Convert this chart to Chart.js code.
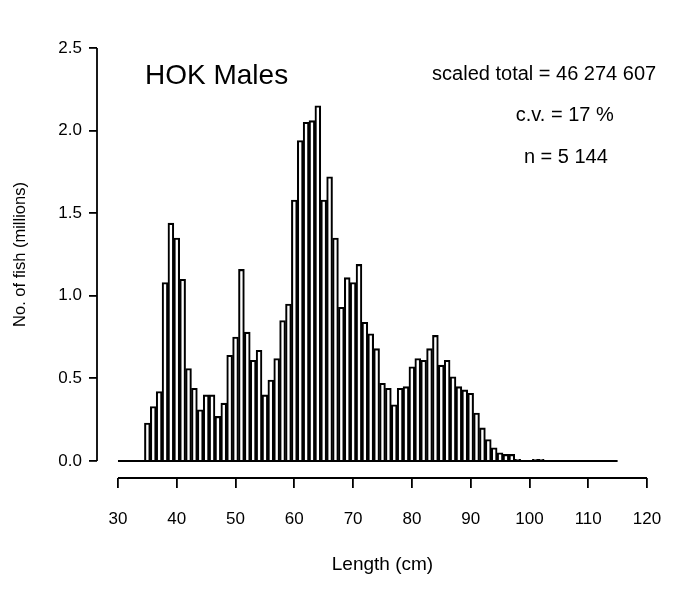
<!DOCTYPE html>
<html><head><meta charset="utf-8">
<script src="https://cdn.jsdelivr.net/npm/chart.js@4.4.0/dist/chart.umd.min.js"></script>
<style>html,body{margin:0;padding:0;background:#fff}#wrap{width:686px;height:602px;position:relative}</style>
</head><body><div id="wrap"><canvas id="c" width="686" height="602"></canvas></div>
<script>
// ---- data ----
const lengths = [35,36,37,38,39,40,41,42,43,44,45,46,47,48,49,50,51,52,53,54,55,56,57,58,59,60,61,62,63,64,65,66,67,68,69,70,71,72,73,74,75,76,77,78,79,80,81,82,83,84,85,86,87,88,89,90,91,92,93,94,95,96,97,98,99,100,101,102];
const counts = [0.23,0.33,0.42,1.08,1.44,1.35,1.10,0.56,0.44,0.31,0.40,0.40,0.27,0.35,0.64,0.75,1.16,0.78,0.61,0.67,0.40,0.49,0.62,0.85,0.95,1.58,1.94,2.05,2.06,2.15,1.58,1.72,1.35,0.93,1.11,1.08,1.19,0.84,0.77,0.68,0.47,0.44,0.34,0.44,0.45,0.57,0.62,0.61,0.68,0.76,0.58,0.61,0.51,0.45,0.43,0.41,0.29,0.20,0.13,0.08,0.05,0.04,0.04,0.01,0.005,0.005,0.01,0.01];
const baselineRange = [30,115];
const xTickValues = [30,40,50,60,70,80,90,100,110,120];
const yTickValues = [0,0.5,1,1.5,2,2.5];
const titleText = "HOK Males";
const statLines = ["scaled total = 46 274 607","c.v. = 17 %","n = 5 144"];
const xTitle = "Length (cm)";
const yTitle = "No. of fish (millions)";

const FONT = "'Liberation Sans', Arial, Helvetica, sans-serif";

const detached = {
  id: 'detached',
  afterDraw(chart) {
    const {ctx, chartArea, scales: {x, y}} = chart;
    const x0 = x.getPixelForValue(xTickValues[0]);
    const x1 = x.getPixelForValue(xTickValues[xTickValues.length-1]);
    const y0 = y.getPixelForValue(yTickValues[0]);
    const y1 = y.getPixelForValue(yTickValues[yTickValues.length-1]);
    ctx.save();
    ctx.strokeStyle = '#000';
    ctx.lineWidth = 1.8;
    ctx.beginPath();
    ctx.moveTo(chartArea.left, y0);
    ctx.lineTo(chartArea.left, y1);
    ctx.stroke();
    ctx.beginPath();
    ctx.moveTo(x0, chartArea.bottom);
    ctx.lineTo(x1, chartArea.bottom);
    ctx.stroke();
    ctx.fillStyle = '#000';
    ctx.textBaseline = 'middle';
    // axis titles
    ctx.font = "19px " + FONT;
    ctx.textAlign = 'center';
    ctx.fillText(xTitle, (x0 + x1) / 2, 565);
    ctx.save();
    ctx.translate(20, (y0 + y1) / 2);
    ctx.rotate(-Math.PI / 2);
    ctx.font = "16.5px " + FONT;
    ctx.fillText(yTitle, 0, 0);
    ctx.restore();
    // annotations
    ctx.font = "28px " + FONT;
    ctx.textAlign = 'left';
    ctx.fillText(titleText, x.getPixelForValue(34.6), y.getPixelForValue(2.33));
    ctx.font = "20px " + FONT;
    ctx.textAlign = 'center';
    const pos = [[102.5,2.34],[106.0,2.09],[106.2,1.84]];
    statLines.forEach((t,i)=>ctx.fillText(t, x.getPixelForValue(pos[i][0]), y.getPixelForValue(pos[i][1])));
    ctx.restore();
  }
};

new Chart(document.getElementById('c'), {
  type: 'bar',
  data: {
    datasets: [
      {
        type: 'line',
        data: baselineRange.map(v => ({x: v, y: 0})),
        borderColor: '#000', borderWidth: 1.8, pointRadius: 0, order: 0
      },
      {
        type: 'bar',
        data: lengths.map((l, i) => ({x: l, y: counts[i]})),
        backgroundColor: '#fff', borderColor: '#000', borderWidth: 2.1,
        borderSkipped: 'start',
        barPercentage: 1.0, categoryPercentage: 1.0, order: 1
      }
    ]
  },
  options: {
    responsive: false,
    animation: false,
    devicePixelRatio: 1,
    layout: {padding: {left: 0, top: 48, right: 39, bottom: 0}},
    plugins: {legend: {display: false}, tooltip: {enabled: false}},
    scales: {
      x: {
        type: 'linear', min: 26.43, max: 120, offset: false,
        afterBuildTicks: s => { s.ticks = xTickValues.map(v => ({value: v})); },
        afterFit: s => { s.height = 124; },
        grid: {offset: false, drawOnChartArea: false, drawTicks: true, tickLength: 10, color: '#000', lineWidth: 1.8},
        border: {display: false},
        ticks: {color: '#000', padding: 21, font: {family: FONT, size: 17}, maxRotation: 0, autoSkip: false},
        title: {display: false}
      },
      y: {
        min: -0.103, max: 2.5,
        afterBuildTicks: s => { s.ticks = yTickValues.map(v => ({value: v})); },
        afterFit: s => { s.width = 97; },
        grid: {drawOnChartArea: false, drawTicks: true, tickLength: 8, color: '#000', lineWidth: 1.8},
        border: {display: false},
        ticks: {color: '#000', padding: 7, font: {family: FONT, size: 17}, callback: v => v.toFixed(1)},
        title: {display: false}
      }
    }
  },
  plugins: [detached]
});
</script>
</body></html>
